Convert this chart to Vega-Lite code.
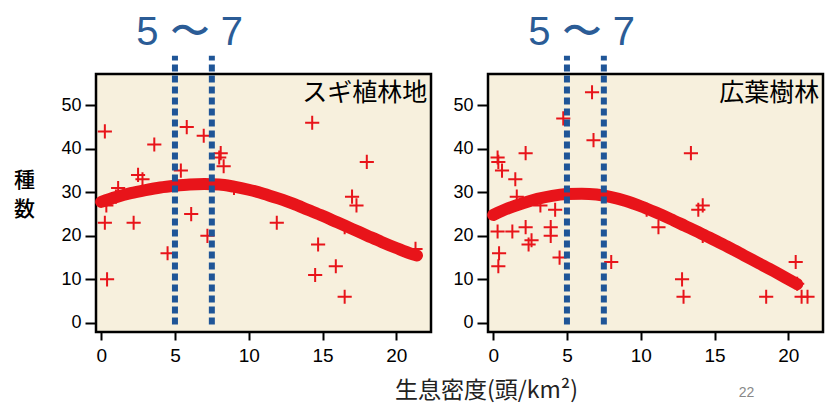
{
  "$schema": "https://vega.github.io/schema/vega-lite/v6.json",
  "background": "white",
  "padding": {"left": 12, "top": 11, "right": 0, "bottom": 0},
  "autosize": {"type": "pad"},
  "bounds": "flush",
  "spacing": 57,
  "config": {
    "view": {"stroke": "black", "strokeWidth": 2.5, "fill": "#f7f0dd"},
    "axis": {"domain": false, "grid": false, "tickColor": "black", "tickWidth": 2, "labelColor": "black", "labelFont": "Liberation Sans"},
    "axisY": {"tickSize": 11, "labelFontSize": 18, "labelPadding": 4},
    "axisX": {"tickSize": 8, "labelFontSize": 19, "labelPadding": 6}
  },
  "datasets": {
    "sugi": [
      {"d": 0.25, "s": 44}, {"d": 0.25, "s": 23}, {"d": 0.4, "s": 10}, {"d": 0.35, "s": 27},
      {"d": 1.15, "s": 31}, {"d": 1.0, "s": 29}, {"d": 2.2, "s": 23}, {"d": 2.5, "s": 34},
      {"d": 2.8, "s": 33}, {"d": 3.6, "s": 41}, {"d": 4.5, "s": 16}, {"d": 5.4, "s": 35},
      {"d": 5.8, "s": 45}, {"d": 6.1, "s": 25}, {"d": 6.95, "s": 43}, {"d": 7.2, "s": 20},
      {"d": 8.1, "s": 39}, {"d": 8.0, "s": 38}, {"d": 8.3, "s": 36}, {"d": 9.0, "s": 31},
      {"d": 11.9, "s": 23}, {"d": 14.3, "s": 46}, {"d": 14.5, "s": 11}, {"d": 14.7, "s": 18},
      {"d": 15.9, "s": 13}, {"d": 16.5, "s": 6}, {"d": 16.5, "s": 22}, {"d": 17.0, "s": 29},
      {"d": 17.3, "s": 27}, {"d": 18.0, "s": 37}, {"d": 21.3, "s": 17}
    ],
    "kouyou": [
      {"d": 0.3, "s": 38}, {"d": 0.35, "s": 37}, {"d": 0.6, "s": 35}, {"d": 0.3, "s": 21},
      {"d": 0.4, "s": 16}, {"d": 0.35, "s": 13}, {"d": 1.3, "s": 21}, {"d": 1.5, "s": 33},
      {"d": 1.6, "s": 29}, {"d": 2.2, "s": 39}, {"d": 2.2, "s": 22}, {"d": 2.4, "s": 18},
      {"d": 2.6, "s": 19}, {"d": 3.2, "s": 27}, {"d": 3.9, "s": 22}, {"d": 3.9, "s": 20},
      {"d": 4.2, "s": 26}, {"d": 4.5, "s": 15}, {"d": 4.75, "s": 47}, {"d": 6.7, "s": 53},
      {"d": 6.8, "s": 42}, {"d": 8.0, "s": 14}, {"d": 10.4, "s": 26}, {"d": 11.2, "s": 22},
      {"d": 12.8, "s": 10}, {"d": 12.9, "s": 6}, {"d": 13.4, "s": 39}, {"d": 13.9, "s": 26},
      {"d": 14.2, "s": 27}, {"d": 14.2, "s": 20}, {"d": 18.5, "s": 6}, {"d": 20.5, "s": 14},
      {"d": 20.6, "s": 9}, {"d": 20.9, "s": 6}, {"d": 21.3, "s": 6}
    ],
    "sugi_fit": [
      {"d": 0, "s": 27.8}, {"d": 1, "s": 28.9}, {"d": 2, "s": 29.8}, {"d": 3, "s": 30.5},
      {"d": 4, "s": 31.1}, {"d": 5, "s": 31.5}, {"d": 6, "s": 31.8}, {"d": 7, "s": 31.9},
      {"d": 8, "s": 31.8}, {"d": 9, "s": 31.3}, {"d": 10, "s": 30.6}, {"d": 11, "s": 29.7},
      {"d": 12, "s": 28.6}, {"d": 13, "s": 27.4}, {"d": 14, "s": 26.0}, {"d": 15, "s": 24.6},
      {"d": 16, "s": 23.1}, {"d": 17, "s": 21.6}, {"d": 18, "s": 20.1}, {"d": 19, "s": 18.6},
      {"d": 20, "s": 17.2}, {"d": 21, "s": 15.9}, {"d": 21.4, "s": 15.5}
    ],
    "kouyou_fit": [
      {"d": 0, "s": 24.8}, {"d": 1, "s": 26.3}, {"d": 2, "s": 27.5}, {"d": 3, "s": 28.5},
      {"d": 4, "s": 29.2}, {"d": 5, "s": 29.6}, {"d": 6, "s": 29.7}, {"d": 7, "s": 29.5},
      {"d": 8, "s": 28.9}, {"d": 9, "s": 28.0}, {"d": 10, "s": 26.8}, {"d": 11, "s": 25.4},
      {"d": 12, "s": 23.9}, {"d": 13, "s": 22.3}, {"d": 14, "s": 20.7}, {"d": 15, "s": 19.0},
      {"d": 16, "s": 17.3}, {"d": 17, "s": 15.5}, {"d": 18, "s": 13.7}, {"d": 19, "s": 11.9},
      {"d": 20, "s": 10.0}, {"d": 20.6, "s": 8.9}
    ],
    "bounds": [{"d": 5}, {"d": 7.5}]
  },
  "hconcat": [
    {
      "width": 335,
      "height": 258,
      "layer": [
        {
          "data": {"name": "sugi"},
          "mark": {"type": "point", "shape": "M-1,0H1M0,-1V1", "filled": false, "stroke": "#e8141a", "strokeWidth": 2, "size": 200, "opacity": 1},
          "encoding": {
            "x": {"field": "d", "type": "quantitative", "scale": {"domain": [-0.35, 22.35], "nice": false, "zero": false},
                  "axis": {"values": [0, 5, 10, 15, 20], "title": "生息密度(頭/km²)", "titleFont": "Noto Sans CJK JP", "titleFontSize": 23, "titleFontWeight": "normal", "titleColor": "#222", "titleX": 390, "titleY": 58, "titleAlign": "center", "titleBaseline": "middle"}},
            "y": {"field": "s", "type": "quantitative", "scale": {"domain": [-2.1, 57.2], "nice": false, "zero": false},
                  "axis": {"values": [0, 10, 20, 30, 40, 50], "title": "種", "titleFont": "Noto Sans CJK JP", "titleFontSize": 21, "titleFontWeight": 500, "titleColor": "black", "titleAngle": 0, "titleX": -72, "titleY": 106, "titleAlign": "center", "titleBaseline": "middle"}}
          }
        },
        {
          "data": {"name": "sugi_fit"},
          "mark": {"type": "line", "color": "#e8141a", "strokeWidth": 12, "strokeCap": "round", "strokeJoin": "round", "interpolate": "monotone"},
          "encoding": {
            "x": {"field": "d", "type": "quantitative"},
            "y": {"field": "s", "type": "quantitative"}
          }
        },
        {
          "data": {"name": "bounds"},
          "mark": {"type": "rule", "color": "#1f5597", "strokeWidth": 6, "strokeDash": [7, 4]},
          "encoding": {
            "x": {"field": "d", "type": "quantitative"},
            "y": {"datum": -0.4},
            "y2": {"datum": 61.4}
          }
        },
        {
          "data": {"values": [{"label": "数"}]},
          "mark": {"type": "text", "align": "center", "baseline": "middle", "font": "Noto Sans CJK JP", "fontSize": 21, "fontWeight": 500, "color": "black"},
          "encoding": {
            "text": {"field": "label"},
            "x": {"datum": -5.2},
            "y": {"datum": 26.0}
          }
        },
        {
          "data": {"values": [{"label": "スギ植林地"}]},
          "mark": {"type": "text", "align": "right", "baseline": "middle", "font": "Noto Sans CJK JP", "fontSize": 25, "color": "black"},
          "encoding": {
            "text": {"field": "label"},
            "x": {"datum": 22.1},
            "y": {"datum": 52.8}
          }
        },
        {
          "data": {"values": [{"label": "5 〜 7"}]},
          "mark": {"type": "text", "align": "center", "baseline": "middle", "font": "Liberation Sans", "fontSize": 40, "color": "#2b5c96"},
          "encoding": {
            "text": {"field": "label"},
            "x": {"datum": 6.0},
            "y": {"datum": 66.6}
          }
        }
      ]
    },
    {
      "width": 335,
      "height": 258,
      "layer": [
        {
          "data": {"name": "kouyou"},
          "mark": {"type": "point", "shape": "M-1,0H1M0,-1V1", "filled": false, "stroke": "#e8141a", "strokeWidth": 2, "size": 200, "opacity": 1},
          "encoding": {
            "x": {"field": "d", "type": "quantitative", "scale": {"domain": [-0.35, 22.35], "nice": false, "zero": false},
                  "axis": {"values": [0, 5, 10, 15, 20], "title": "22", "titleFont": "Liberation Sans", "titleFontSize": 14, "titleFontWeight": "normal", "titleColor": "#888", "titleX": 258, "titleY": 60, "titleAlign": "center", "titleBaseline": "middle"}},
            "y": {"field": "s", "type": "quantitative", "scale": {"domain": [-2.1, 57.2], "nice": false, "zero": false},
                  "axis": {"values": [0, 10, 20, 30, 40, 50], "title": ""}}
          }
        },
        {
          "data": {"name": "kouyou_fit"},
          "mark": {"type": "line", "color": "#e8141a", "strokeWidth": 12, "strokeCap": "round", "strokeJoin": "round", "interpolate": "monotone"},
          "encoding": {
            "x": {"field": "d", "type": "quantitative"},
            "y": {"field": "s", "type": "quantitative"}
          }
        },
        {
          "data": {"name": "bounds"},
          "mark": {"type": "rule", "color": "#1f5597", "strokeWidth": 6, "strokeDash": [7, 4]},
          "encoding": {
            "x": {"field": "d", "type": "quantitative"},
            "y": {"datum": -0.4},
            "y2": {"datum": 61.4}
          }
        },
        {
          "data": {"values": [{"label": "広葉樹林"}]},
          "mark": {"type": "text", "align": "right", "baseline": "middle", "font": "Noto Sans CJK JP", "fontSize": 25, "color": "black"},
          "encoding": {
            "text": {"field": "label"},
            "x": {"datum": 22.1},
            "y": {"datum": 52.8}
          }
        },
        {
          "data": {"values": [{"label": "5 〜 7"}]},
          "mark": {"type": "text", "align": "center", "baseline": "middle", "font": "Liberation Sans", "fontSize": 40, "color": "#2b5c96"},
          "encoding": {
            "text": {"field": "label"},
            "x": {"datum": 6.0},
            "y": {"datum": 66.6}
          }
        }
      ]
    }
  ]
}
